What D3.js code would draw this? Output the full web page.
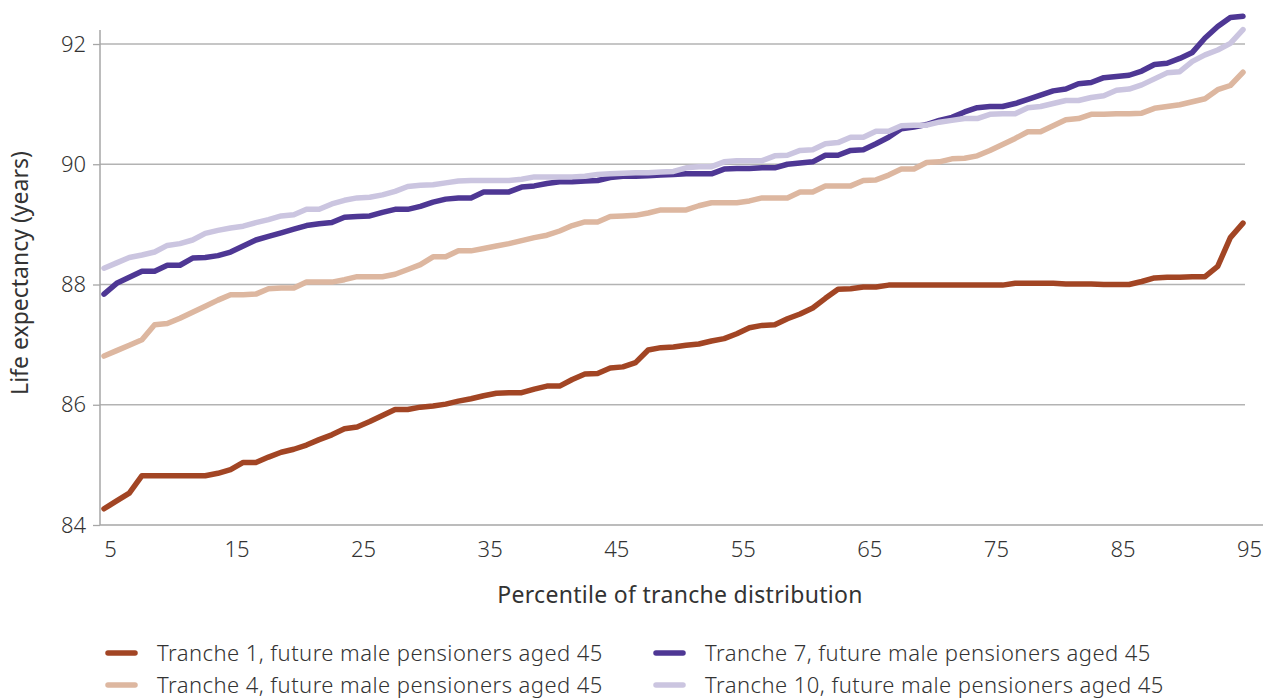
<!DOCTYPE html>
<html>
<head>
<meta charset="utf-8">
<script src="https://cdn.jsdelivr.net/npm/d3@7"></script>
<style>
  body { margin: 0; background: #fff; }
  svg text { font-family: "Noto Sans", "Lato", sans-serif; fill: #333; }
</style>
</head>
<body>
<div id="chart"></div>
<script>
// percentiles 5..95, one value per percentile
const percentiles = d3.range(5, 96);

const tranche1 = [
  84.27, 84.40, 84.53, 84.82, 84.82, 84.82, 84.82, 84.82, 84.82, 84.86,
  84.92, 85.04, 85.04, 85.13, 85.21, 85.26, 85.33, 85.42, 85.50, 85.60,
  85.63, 85.72, 85.82, 85.92, 85.92, 85.96, 85.98, 86.01, 86.06, 86.10,
  86.15, 86.19, 86.20, 86.20, 86.26, 86.31, 86.31, 86.42, 86.51, 86.52,
  86.61, 86.63, 86.70, 86.91, 86.95, 86.96, 86.99, 87.01, 87.06, 87.10,
  87.18, 87.28, 87.32, 87.33, 87.43, 87.51, 87.61, 87.77, 87.92, 87.93,
  87.96, 87.96, 87.99, 87.99, 87.99, 87.99, 87.99, 87.99, 87.99, 87.99,
  87.99, 87.99, 88.02, 88.02, 88.02, 88.02, 88.01, 88.01, 88.01, 88.00,
  88.00, 88.00, 88.05, 88.11, 88.12, 88.12, 88.13, 88.13, 88.30, 88.78,
  89.02
];

const tranche4 = [
  86.81, 86.90, 86.99, 87.08, 87.33, 87.35, 87.44, 87.54, 87.64, 87.74,
  87.83, 87.83, 87.84, 87.93, 87.94, 87.94, 88.04, 88.04, 88.04, 88.08,
  88.13, 88.13, 88.13, 88.17, 88.25, 88.33, 88.46, 88.46, 88.56, 88.56,
  88.60, 88.64, 88.68, 88.73, 88.78, 88.82, 88.89, 88.98, 89.04, 89.04,
  89.13, 89.14, 89.15, 89.19, 89.24, 89.24, 89.24, 89.31, 89.36, 89.36,
  89.36, 89.39, 89.44, 89.44, 89.44, 89.54, 89.54, 89.64, 89.64, 89.64,
  89.73, 89.74, 89.82, 89.92, 89.92, 90.03, 90.04, 90.09, 90.10, 90.14,
  90.23, 90.33, 90.43, 90.54, 90.54, 90.64, 90.74, 90.76, 90.83, 90.83,
  90.84, 90.84, 90.85, 90.93, 90.96, 90.99, 91.04, 91.09, 91.24, 91.31,
  91.53
];

const tranche7 = [
  87.84, 88.02, 88.12, 88.22, 88.22, 88.32, 88.32, 88.44, 88.45, 88.48,
  88.54, 88.64, 88.74, 88.80, 88.86, 88.92, 88.98, 89.01, 89.03, 89.12,
  89.13, 89.14, 89.20, 89.25, 89.25, 89.30, 89.37, 89.42, 89.44, 89.44,
  89.54, 89.54, 89.54, 89.62, 89.64, 89.68, 89.71, 89.71, 89.72, 89.73,
  89.78, 89.80, 89.80, 89.81, 89.82, 89.83, 89.84, 89.84, 89.84, 89.92,
  89.93, 89.93, 89.94, 89.94, 90.00, 90.02, 90.04, 90.15, 90.15, 90.23,
  90.24, 90.34, 90.45, 90.59, 90.62, 90.66, 90.73, 90.78, 90.87, 90.94,
  90.96, 90.96, 91.01, 91.08, 91.15, 91.22, 91.25, 91.34, 91.36, 91.44,
  91.46, 91.48, 91.55, 91.66, 91.68, 91.76, 91.86, 92.10, 92.29, 92.44,
  92.46
];

const tranche10 = [
  88.27, 88.36, 88.45, 88.49, 88.54, 88.65, 88.68, 88.74, 88.85, 88.90,
  88.94, 88.97, 89.03, 89.08, 89.14, 89.16, 89.25, 89.25, 89.34, 89.40,
  89.44, 89.45, 89.49, 89.55, 89.63, 89.65, 89.66, 89.69, 89.72, 89.73,
  89.73, 89.73, 89.73, 89.75, 89.79, 89.79, 89.79, 89.79, 89.80, 89.83,
  89.84, 89.85, 89.86, 89.86, 89.87, 89.88, 89.94, 89.96, 89.96, 90.04,
  90.06, 90.06, 90.06, 90.14, 90.15, 90.23, 90.24, 90.34, 90.36, 90.45,
  90.45, 90.55, 90.55, 90.64, 90.65, 90.65, 90.70, 90.73, 90.76, 90.76,
  90.83, 90.84, 90.84, 90.94, 90.96, 91.01, 91.06, 91.06, 91.11, 91.14,
  91.23, 91.25, 91.32, 91.42, 91.52, 91.54, 91.71, 91.82, 91.90, 92.01,
  92.24
];

const seriesNames = [
  "Tranche 1, future male pensioners aged 45",
  "Tranche 4, future male pensioners aged 45",
  "Tranche 7, future male pensioners aged 45",
  "Tranche 10, future male pensioners aged 45"
];
const seriesColors = ["#a24524", "#ddb7a0", "#4e3794", "#cbc5e0"];
const seriesValues = [tranche1, tranche4, tranche7, tranche10];

const yTicks = [84, 86, 88, 90, 92];
const xTicks = [5, 15, 25, 35, 45, 55, 65, 75, 85, 95];

const width = 1265, height = 700;

const x = d3.scaleLinear().domain([5, 95]).range([104, 1243]);
const y = d3.scaleLinear().domain([84, 92]).range([525, 44]);

const svg = d3.select('#chart').append('svg')
  .attr('width', width)
  .attr('height', height);

// gridlines
svg.append('g')
  .selectAll('line')
  .data(yTicks.filter(d => d !== 84))
  .join('line')
  .attr('x1', 100).attr('x2', 1245)
  .attr('y1', d => y(d)).attr('y2', d => y(d))
  .attr('stroke', '#b3b3b3')
  .attr('stroke-width', 1.3);

// y axis
const yAxis = svg.append('g')
  .attr('transform', 'translate(100,0)')
  .call(d3.axisLeft(y).tickValues(yTicks).tickSize(7).tickPadding(7).tickFormat(d3.format('d')));
yAxis.select('.domain').attr('d', `M0,30V${y(84)}`);

// x axis
const xAxis = svg.append('g')
  .attr('transform', `translate(0,${y(84)})`)
  .call(d3.axisBottom(x).tickValues(xTicks).tickSize(0).tickPadding(16).tickFormat(d3.format('d')));
xAxis.select('.domain').attr('d', 'M100,0H1263');
xAxis.selectAll('text').attr('dx', 6);

svg.selectAll('.domain').attr('stroke', '#a6a6a6').attr('stroke-width', 1.5);
svg.selectAll('.tick line').attr('stroke', '#a6a6a6').attr('stroke-width', 1.3);
svg.selectAll('.tick text')
  .style('font-size', '22px')
  .style('font-weight', 300)
  .attr('fill', '#333');

// axis titles
svg.append('text')
  .attr('x', 680).attr('y', 603)
  .attr('text-anchor', 'middle')
  .style('font-size', '23px')
  .style('letter-spacing', '0.3px')
  .attr('fill', '#222')
  .text('Percentile of tranche distribution');

svg.append('text')
  .attr('transform', 'translate(28,273) rotate(-90)')
  .attr('text-anchor', 'middle')
  .style('font-size', '23px')
  .attr('fill', '#222')
  .text('Life expectancy (years)');

// lines
const line = d3.line()
  .x((d, i) => x(percentiles[i]))
  .y(d => y(d));

svg.append('g')
  .selectAll('path')
  .data(seriesValues)
  .join('path')
  .attr('d', line)
  .attr('fill', 'none')
  .attr('stroke', (d, i) => seriesColors[i])
  .attr('stroke-width', 5.5)
  .attr('stroke-linejoin', 'round')
  .attr('stroke-linecap', 'round');

// legend, two columns
const legendPos = [[105, 653], [105, 685], [653, 653], [653, 685]];
const legend = svg.append('g')
  .selectAll('g')
  .data(seriesNames)
  .join('g')
  .attr('transform', (d, i) => `translate(${legendPos[i][0]},${legendPos[i][1]})`);

legend.append('line')
  .attr('x1', 3).attr('x2', 30)
  .attr('stroke', (d, i) => seriesColors[i])
  .attr('stroke-width', 5.5)
  .attr('stroke-linecap', 'round');

legend.append('text')
  .attr('x', 52).attr('dy', '0.35em')
  .style('font-size', '22px')
  .style('letter-spacing', '0.45px')
  .style('font-weight', 300)
  .attr('fill', '#333')
  .text(d => d);
</script>
</body>
</html>
